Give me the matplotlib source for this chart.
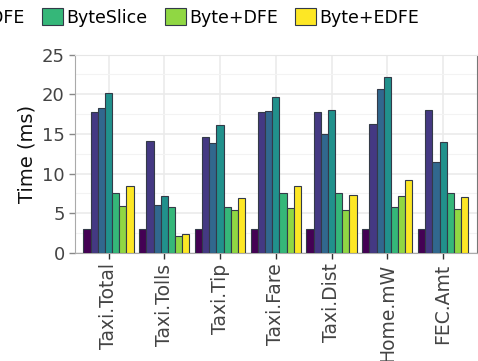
import numpy as np
import matplotlib
matplotlib.use("Agg")
import matplotlib.pyplot as plt
from matplotlib.ticker import MultipleLocator

# datasets on the x axis
datasets = ["Taxi.Total", "Taxi.Tolls", "Taxi.Tip", "Taxi.Fare",
            "Taxi.Dist", "Home.mW", "FEC.Amt"]

# methods (one bar per method in every group)
methods = ["Baseline", "Scan", "DFE", "EDFE", "ByteSlice", "Byte+DFE", "Byte+EDFE"]

# time in ms, one list per method, ordered like datasets
baseline = [3.0, 3.0, 3.0, 3.0, 3.0, 3.0, 3.0]
scan = [17.8, 14.1, 14.6, 17.8, 17.8, 16.3, 18.0]
dfe = [18.3, 6.0, 13.9, 17.9, 15.0, 20.7, 11.5]
edfe = [20.2, 7.2, 16.1, 19.7, 18.0, 22.2, 14.0]
byteslice = [7.6, 5.8, 5.8, 7.6, 7.6, 5.8, 7.6]
byte_dfe = [5.9, 2.1, 5.4, 5.7, 5.4, 7.2, 5.5]
byte_edfe = [8.5, 2.4, 6.9, 8.5, 7.3, 9.2, 7.1]

series = [baseline, scan, dfe, edfe, byteslice, byte_dfe, byte_edfe]
colors = plt.cm.viridis(np.linspace(0, 1, len(methods)))

fig = plt.figure(figsize=(4.78, 3.61), dpi=100)
ax = fig.add_axes([0.157, 0.299, 0.84, 0.55])

x = np.arange(len(datasets))
group_w = 0.9
bar_w = group_w / len(methods)
for i, (name, vals) in enumerate(zip(methods, series)):
    offs = -group_w / 2 + bar_w * (i + 0.5)
    ax.bar(x + offs, vals, bar_w, color=colors[i], edgecolor="#333a48",
           linewidth=0.8, label=name, zorder=3)

ax.set_xlim(-0.6, len(datasets) - 0.4)
ax.set_ylim(0, 25)
ax.yaxis.set_major_locator(MultipleLocator(5))
ax.yaxis.set_minor_locator(MultipleLocator(2.5))
ax.set_xticks(x)
ax.set_xticklabels(datasets, rotation=90, fontsize=13.5, color="#444444")
ax.tick_params(axis="y", labelsize=13, labelcolor="#444444", color="#888888",
               length=4, width=1)
ax.tick_params(axis="y", which="minor", length=0)
ax.tick_params(axis="x", color="#333333", length=4, width=1)
ax.set_ylabel("Time (ms)", fontsize=14, color="#111111")

ax.grid(True, which="major", color="#ebebeb", linewidth=1.2, zorder=0)
ax.grid(True, which="minor", axis="y", color="#f3f3f3", linewidth=0.8, zorder=0)
ax.set_axisbelow(True)

for side in ["left", "bottom"]:
    ax.spines[side].set_color("#aaaaaa")
ax.spines["top"].set_color("#e6e6e6")
ax.spines["right"].set_color("#777777")

fig.legend(loc="upper right", bbox_to_anchor=(0.892, 0.997), ncol=7,
           frameon=False, fontsize=12.5, handlelength=1.2, handleheight=1.15,
           handletextpad=0.2, columnspacing=1.0, borderaxespad=0)

fig.savefig("out.png", dpi=100)
